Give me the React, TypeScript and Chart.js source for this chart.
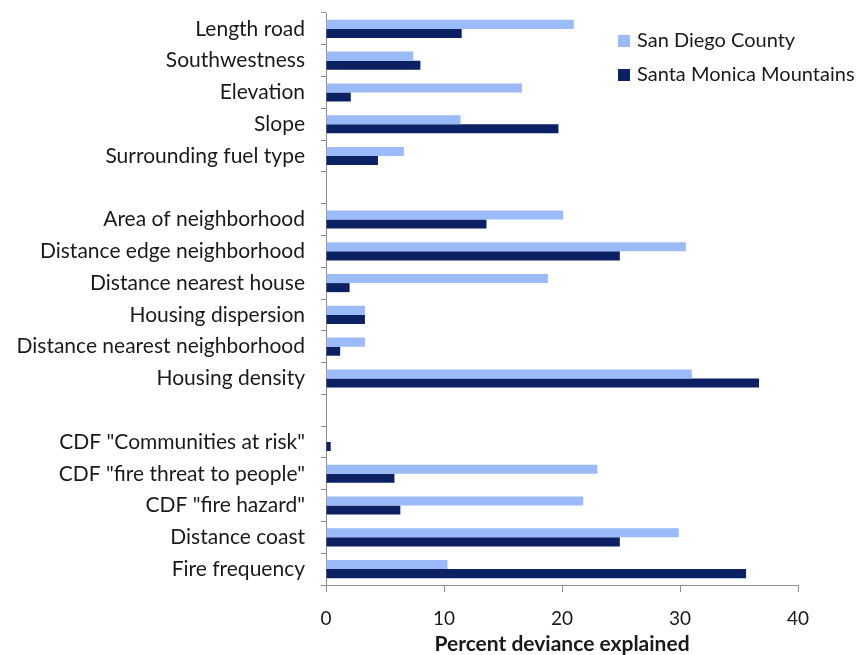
import React, { useEffect, useRef } from "react";
import { Chart, registerables } from "chart.js";
Chart.register(...registerables);

const categories = [
  "Length road",
  "Southwestness",
  "Elevation",
  "Slope",
  "Surrounding fuel type",
  "",
  "Area of neighborhood",
  "Distance edge neighborhood",
  "Distance nearest house",
  "Housing dispersion",
  "Distance nearest neighborhood",
  "Housing density",
  "",
  'CDF "Communities at risk"',
  'CDF "fire threat to people"',
  'CDF "fire hazard"',
  "Distance coast",
  "Fire frequency",
];

const sanDiegoCounty = [21.0, 7.4, 16.6, 11.4, 6.6, null, 20.1, 30.5, 18.8, 3.3, 3.3, 31.0, null, 0, 23.0, 21.8, 29.9, 10.3];
const santaMonicaMountains = [11.5, 8.0, 2.1, 19.7, 4.4, null, 13.6, 24.9, 2.0, 3.3, 1.2, 36.7, null, 0.4, 5.8, 6.3, 24.9, 35.6];

const seriesNames = ["San Diego County", "Santa Monica Mountains"];
const xMin = 0;
const xMax = 40;
const xStep = 10;
const axisTitle = "Percent deviance explained";

const LIGHT = "#9BBBF8";
const DARK = "#0B2163";
const TEXT = "#1a1a1a";
const AXIS = "#8c8c8c";
const FONT = "Lato, 'Open Sans', sans-serif";

export default function App() {
  const ref = useRef<HTMLCanvasElement | null>(null);

  useEffect(() => {
    document.body.style.margin = "0";
    const legendPlugin = {
      id: "customLegend",
      afterDraw(chart: any) {
        const ctx = chart.ctx;
        ctx.save();
        ctx.font = `20px ${FONT}`;
        ctx.textBaseline = "middle";
        ctx.textAlign = "left";
        chart.data.datasets.forEach((ds: any, i: number) => {
          const cy = 41 + i * 34;
          ctx.fillStyle = ds.backgroundColor;
          ctx.fillRect(618, cy - 6, 12, 12);
          ctx.fillStyle = TEXT;
          ctx.fillText(ds.label, 637, cy);
        });
        ctx.restore();
      },
    };

    const chart = new Chart(ref.current as HTMLCanvasElement, {
      type: "bar",
      data: {
        labels: categories,
        datasets: [
          { label: seriesNames[0], data: sanDiegoCounty as any, backgroundColor: LIGHT },
          { label: seriesNames[1], data: santaMonicaMountains as any, backgroundColor: DARK },
        ],
      },
      options: {
        indexAxis: "y",
        responsive: false,
        animation: false,
        categoryPercentage: 0.57,
        barPercentage: 1.0,
        layout: { padding: { top: 13, right: 70, left: 0, bottom: 0 } },
        plugins: {
          legend: { display: false },
          tooltip: { enabled: false },
        },
        scales: {
          x: {
            type: "linear",
            min: xMin,
            max: xMax,
            ticks: {
              stepSize: xStep,
              color: TEXT,
              font: { family: FONT, size: 19 },
              padding: 15,
            },
            grid: {
              drawOnChartArea: false,
              drawTicks: true,
              tickLength: 7,
              color: AXIS,
            },
            border: { color: AXIS, width: 1 },
            title: {
              display: true,
              text: axisTitle,
              color: TEXT,
              font: { family: FONT, size: 21, weight: "bold", lineHeight: 1 },
              padding: { top: 0, bottom: 0 },
            },
            afterFit(scale: any) {
              scale.height = 70;
              scale.paddingLeft = 0;
              scale.paddingRight = 0;
            },
          },
          y: {
            type: "category",
            offset: true,
            ticks: {
              color: TEXT,
              font: { family: FONT, size: 21 },
              padding: 16,
              autoSkip: false,
            },
            grid: {
              offset: true,
              drawOnChartArea: false,
              drawTicks: true,
              tickLength: 5,
              color: AXIS,
            },
            border: { color: AXIS, width: 1 },
            afterFit(scale: any) {
              scale.width = 326;
              scale.paddingTop = 0;
              scale.paddingBottom = 0;
            },
          },
        },
      },
      plugins: [legendPlugin],
    });
    return () => chart.destroy();
  }, []);

  return (
    <div style={{ width: 868, height: 655, position: "relative" }}>
      <canvas ref={ref} width={868} height={655} style={{ display: "block" }} />
    </div>
  );
}
